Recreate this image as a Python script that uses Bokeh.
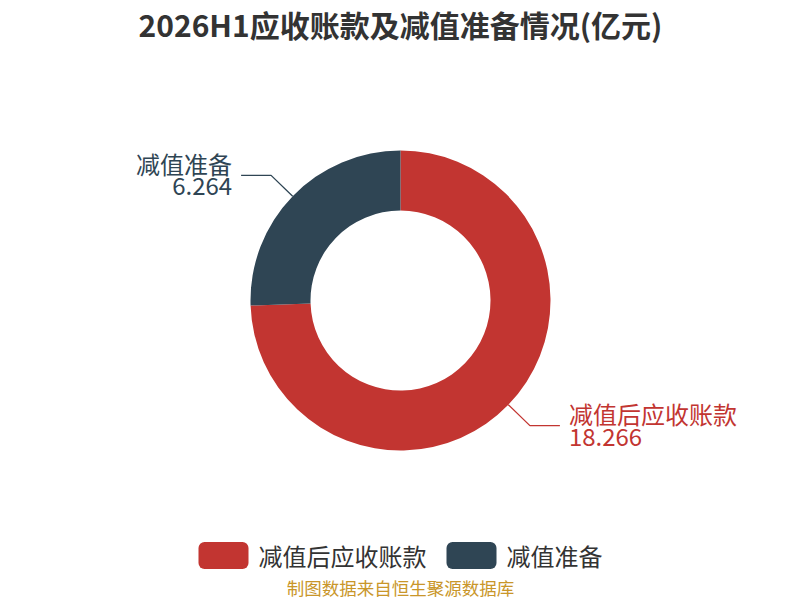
import math
from bokeh.plotting import figure
from bokeh.models import Range1d
from bokeh.core.properties import value
from bokeh.embed import file_html
from bokeh.resources import INLINE

# ---- data ----
title_text = "2026H1应收账款及减值准备情况(亿元)"
categories = ["减值后应收账款", "减值准备"]
values = [18.266, 6.264]
colors = ["#c23531", "#2f4554"]
footer_text = "制图数据来自恒生聚源数据库"

W, H = 800, 600
FONT = value("Noto Sans CJK SC")

def X(px):
    return px

def Y(py):
    return H - py

p = figure(width=W, height=H, x_range=Range1d(0, W), y_range=Range1d(0, H),
           output_backend="svg", toolbar_location=None, min_border=0)
p.axis.visible = False
p.grid.visible = False
p.outline_line_color = None
p.background_fill_color = "white"

cx, cy = X(400), Y(300)
r_out, r_in = 150, 90
total = sum(values)

start = math.pi / 2
starts, ends, mids = [], [], []
for v in values:
    a = 2 * math.pi * v / total
    starts.append(start)
    ends.append(start - a)
    mids.append(start - a / 2)
    start -= a

p.annular_wedge(x=[cx] * len(values), y=[cy] * len(values), inner_radius=r_in, outer_radius=r_out,
                start_angle=starts, end_angle=ends, direction="clock",
                fill_color=colors, line_color=None)

# label lines and labels
for cat, v, col, m in zip(categories, values, colors, mids):
    x0 = cx + r_out * math.cos(m)
    y0 = cy + r_out * math.sin(m)
    x1 = cx + (r_out + 30) * math.cos(m)
    y1 = cy + (r_out + 30) * math.sin(m)
    side = 1 if math.cos(m) >= 0 else -1
    x2 = x1 + side * 30
    p.line([x0, x1, x2], [y0, y1, y1], line_color=col, line_width=1.3)
    align = "left" if side > 0 else "right"
    tx = x2 + side * 9
    p.text(x=[tx], y=[y1 + 12], text=[cat], text_font=FONT, text_font_size="24px",
           text_color=col, text_align=align, text_baseline="middle")
    p.text(x=[tx], y=[y1 - 11], text=[f"{v:.3f}"], text_font=FONT, text_font_size="24px",
           text_color=col, text_align=align, text_baseline="middle")

# title
p.text(x=[X(400)], y=[Y(23)], text=[title_text], text_font=FONT, text_font_size="30px",
       text_font_style="bold", text_color="#333333", text_align="center", text_baseline="middle")

# legend
lx = X(198)
ly = Y(555)
for cat, col in zip(categories, colors):
    p.quad(left=[lx], right=[lx + 50], bottom=[ly - 13.5], top=[ly + 13.5],
           fill_color=col, line_color=None, border_radius=6)
    p.text(x=[lx + 60], y=[ly], text=[cat], text_font=FONT, text_font_size="24px",
           text_color="#333333", text_align="left", text_baseline="middle")
    lx += 50 + 10 + 24 * len(cat) + 20

# footer
p.text(x=[X(400)], y=[Y(587)], text=[footer_text], text_font=FONT, text_font_size="17.5px",
       text_color="#c9962a", text_align="center", text_baseline="middle")

open("out.html", "w").write(file_html(p, INLINE))
